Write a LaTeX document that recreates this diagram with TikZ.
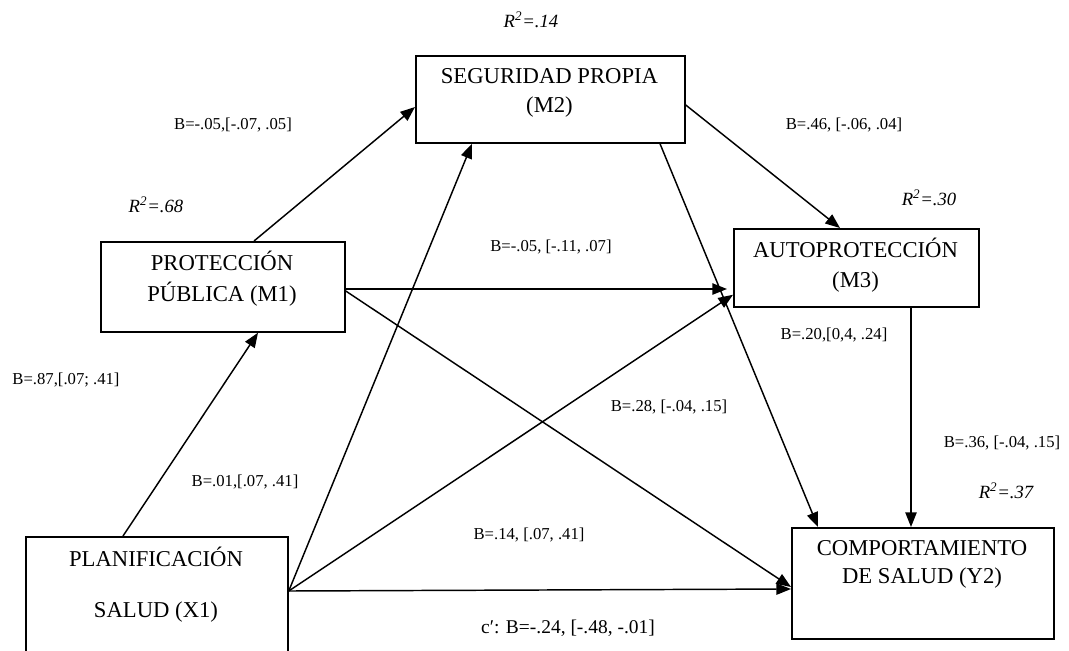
\documentclass[tikz,border=0pt]{standalone}
\usepackage{fontspec}
\setmainfont{Liberation Serif}
\usetikzlibrary{calc,arrows.meta}
\begin{document}
\begin{tikzpicture}[x=0.75pt,y=-0.75pt,
  box/.style={draw,line width=1.3pt,rectangle,inner sep=0pt,anchor=north west},
  boxtext/.style={align=center,font=\fontsize{17}{21}\selectfont,inner sep=0pt},
  coef/.style={font=\fontsize{12.5}{15}\selectfont,inner sep=0pt},
  rsq/.style={font=\fontsize{14}{16}\selectfont\itshape,inner sep=0pt},
  arr/.style={line width=1.1pt,-{Triangle[length=11pt,width=8.5pt]}}]
\useasboundingbox (0,0) rectangle (1069,650);
\clip (0,0) rectangle (1069,650);
% boxes
\node[box,minimum width=201.75pt,minimum height=65.25pt] (m2) at (415,55) {};
\node[box,minimum width=183pt,minimum height=67.5pt] (m1) at (100,241) {};
\node[box,minimum width=183.75pt,minimum height=58.5pt] (m3) at (733,228) {};
\node[box,minimum width=196.5pt,minimum height=93pt] (x1) at (25,536) {};
\node[box,minimum width=196.5pt,minimum height=83.25pt] (y2) at (791,527) {};
% box texts
\node[boxtext,font=\fontsize{17}{21.75}\selectfont] (m2t) at (549.5,92.5) {SEGURIDAD PROPIA\\(M2)};
\node[boxtext,font=\fontsize{17}{23}\selectfont] (m1t) at (222,278.5) {PROTECCIÓN\\PÚBLICA (M1)};
\node[boxtext,font=\fontsize{17}{22.5}\selectfont] (m3t) at (855.5,265) {AUTOPROTECCIÓN\\(M3)};
\node[boxtext,font=\fontsize{17}{38}\selectfont] (x1t) at (156,584.5) {PLANIFICACIÓN\\SALUD (X1)};
\node[boxtext,font=\fontsize{17}{21}\selectfont] (y2t) at (922,564) {COMPORTAMIENTO\\DE SALUD (Y2)};
% connector end points
\coordinate (x1o) at ($(x1.north east)+(0,55)$);
\coordinate (m1a) at ($(m1.north east)+(0,48)$);
\coordinate (m1b) at ($(m1.north east)+(0,50)$);
\coordinate (m3v) at ($(m3.south west)+(178,0)$);
% connectors
\draw[arr] ($(x1.north west)+(98,0)$) -- ($(m1.south west)+(158,0)$);
\draw[arr] ($(m1.north west)+(154,0)$) -- ($(m2.north west)+(0,52)$);
\draw[arr] (x1o) -- ($(m2.south west)+(57,0)$);
\draw[arr] (x1o) -- ($(m3.south west)+(0,-13)$);
\draw[arr] (x1o) -- ($(y2.north west)+(0,62)$);
\draw[arr,shorten >=4.5pt] (m1a) -- (m1a -| m3.west);
\draw[arr] (m1b) -- ($(y2.north west)+(0,60)$);
\draw[arr] ($(m2.north east)+(0,50)$) -- ($(m3.north west)+(107,0)$);
\draw[arr] ($(m2.south west)+(245,0)$) -- ($(y2.north west)+(27,0)$);
\draw[arr] (m3v) -- (m3v |- y2.north);
% R squared
\node[rsq] (r14) at (531,20) {R\textsuperscript{2}=.14};
\node[rsq] (r68) at (156,205) {R\textsuperscript{2}=.68};
\node[rsq] (r30) at (929,198) {R\textsuperscript{2}=.30};
\node[rsq] (r37) at (1006,491) {R\textsuperscript{2}=.37};
% coefficients
\node[coef] (c1) at (233,125) {B=-.05,[-.07, .05]};
\node[coef] (c2) at (844,125) {B=.46, [-.06, .04]};
\node[coef] (c3) at (551,247) {B=-.05, [-.11, .07]};
\node[coef] (c4) at (66,380) {B=.87,[.07; .41]};
\node[coef] (c5) at (245,482) {B=.01,[.07, .41]};
\node[coef] (c6) at (529,535) {B=.14, [.07, .41]};
\node[coef] (c7) at (834,335) {B=.20,[0,4, .24]};
\node[coef] (c8) at (669,407) {B=.28, [-.04, .15]};
\node[coef] (c9) at (1002,443) {B=.36, [-.04, .15]};
\node[coef,font=\fontsize{14.6}{17}\selectfont] (c10) at (568,628) {c′: B=-.24, [-.48, -.01]};
\end{tikzpicture}
\end{document}
